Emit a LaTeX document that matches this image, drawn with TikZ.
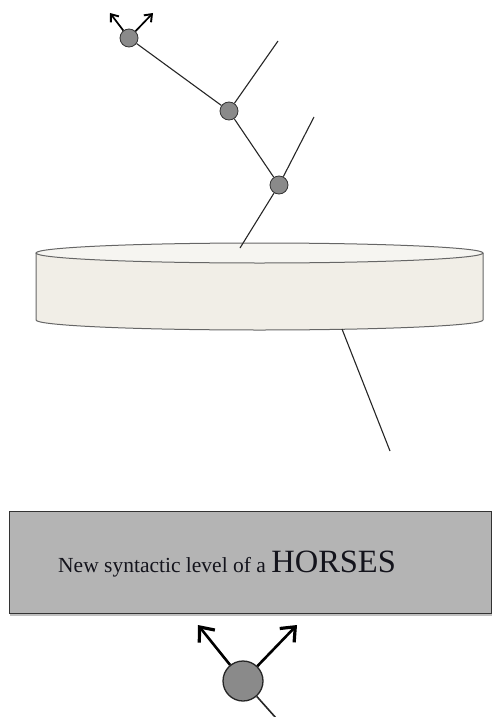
\documentclass[tikz,border=0pt]{standalone}
\usepackage{fontspec}
\setmainfont{Liberation Serif}
\usetikzlibrary{arrows.meta}
\definecolor{dotgray}{HTML}{8A8A8A}
\definecolor{cylbody}{HTML}{F1EEE7}
\definecolor{cyltop}{HTML}{F6F5F1}
\definecolor{boxgray}{HTML}{B4B4B4}
\definecolor{textdark}{HTML}{14141C}
\begin{document}
\begin{tikzpicture}[x=1pt,y=-1pt,
  dot/.style={circle,draw=black!80,fill=dotgray,line width=0.8pt,minimum size=18pt,inner sep=0pt},
  bigdot/.style={circle,draw=black!85,fill=dotgray,line width=1.3pt,minimum size=40pt,inner sep=0pt},
  link/.style={line width=1.1pt,draw=black!85},
  smallarrow/.style={line width=1.7pt,-{Straight Barb[length=6.5pt,width=10pt,line width=1.9pt]}},
  bigarrow/.style={line width=2.6pt,-{Straight Barb[length=12pt,width=20pt,line width=3.2pt]}}]
\useasboundingbox (0,0) rectangle (492,717);
% cylinder
\fill[cylbody] (36,253) -- (36,320) arc[start angle=180,end angle=360,x radius=223.5pt,y radius=10pt] -- (483,253) -- cycle;
\draw[line width=1pt,black!60] (36,253) -- (36,320) arc[start angle=180,end angle=360,x radius=223.5pt,y radius=10pt] -- (483,253);
\draw[line width=1pt,black!60,fill=cyltop] (259.5,253) ellipse[x radius=223.5pt,y radius=10pt];
% tree
\node[dot] (A) at (129,38) {};
\node[dot] (B) at (229,111) {};
\node[dot] (C) at (279,185) {};
\coordinate (a1) at (110,13);
\coordinate (a2) at (153,13);
\coordinate (b1) at (278,41);
\coordinate (c1) at (314,117);
\coordinate (c2) at (240,248);
\draw[link] (A) -- (B);
\draw[link] (B) -- (b1);
\draw[link] (B) -- (C);
\draw[link] (C) -- (c1);
\draw[link] (C) -- (c2);
\draw[smallarrow] (A) -- (a1);
\draw[smallarrow] (A) -- (a2);
% line under cylinder
\coordinate (d1) at (342,329);
\coordinate (d2) at (390,451);
\draw[link] (d1) -- (d2);
% box
\fill[black!25] (10,514) rectangle (492,616);
\node[draw=black!80,line width=1.2pt,fill=boxgray,minimum width=482pt,minimum height=102pt,anchor=north west,inner sep=0pt] (box) at (8.5,511) {};
\node[anchor=base west,inner sep=0pt,text=textdark] (txt) at (58,572)
  {\fontsize{21.5}{25}\selectfont New syntactic level of a \fontsize{32.5}{38}\selectfont HORSES};
% bottom node
\node[bigdot] (D) at (243,681) {};
\coordinate (e1) at (198,625);
\coordinate (e2) at (297,625);
\coordinate (e3) at (276,718);
\draw[link,line width=1.6pt] (D) -- (e3);
\draw[bigarrow] (D) -- (e1);
\draw[bigarrow] (D) -- (e2);
\end{tikzpicture}
\end{document}
